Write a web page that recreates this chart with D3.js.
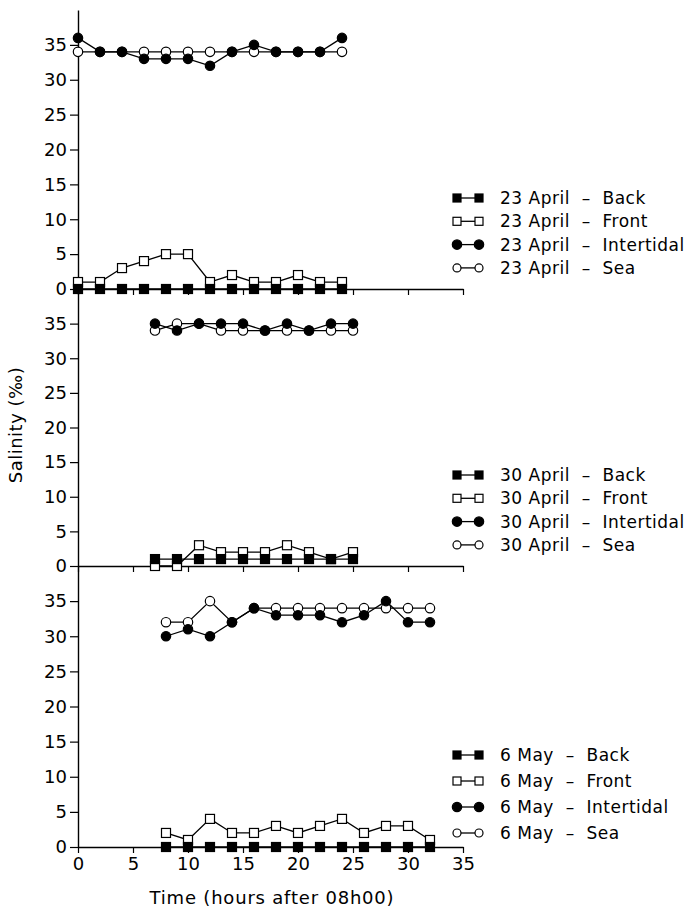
<!DOCTYPE html>
<html>
<head>
<meta charset="utf-8">
<script src="https://cdn.jsdelivr.net/npm/d3@7"></script>
<style>
  body { margin: 0; background: #fff; }
  text { font-family: "DejaVu Sans", sans-serif; fill: #000; }
</style>
</head>
<body>
<div id="chart"></div>
<script>
// data
var panelNames = ["23 April", "30 April", "6 May"];
var seriesNames = ["Back", "Front", "Intertidal", "Sea"];
var yTicks = [0, 5, 10, 15, 20, 25, 30, 35];
var xTicks = [0, 5, 10, 15, 20, 25, 30, 35];

var hoursApr23 = [0, 2, 4, 6, 8, 10, 12, 14, 16, 18, 20, 22, 24];
var backApr23  = [0, 0, 0, 0, 0, 0, 0, 0, 0, 0, 0, 0, 0];
var frontApr23 = [1, 1, 3, 4, 5, 5, 1, 2, 1, 1, 2, 1, 1];
var interApr23 = [36, 34, 34, 33, 33, 33, 32, 34, 35, 34, 34, 34, 36];
var seaApr23   = [34, 34, 34, 34, 34, 34, 34, 34, 34, 34, 34, 34, 34];

var hoursApr30 = [7, 9, 11, 13, 15, 17, 19, 21, 23, 25];
var backApr30  = [1, 1, 1, 1, 1, 1, 1, 1, 1, 1];
var frontApr30 = [0, 0, 3, 2, 2, 2, 3, 2, 1, 2];
var interApr30 = [35, 34, 35, 35, 35, 34, 35, 34, 35, 35];
var seaApr30   = [34, 35, 35, 34, 34, 34, 34, 34, 34, 34];

var hoursMay6 = [8, 10, 12, 14, 16, 18, 20, 22, 24, 26, 28, 30, 32];
var backMay6  = [0, 0, 0, 0, 0, 0, 0, 0, 0, 0, 0, 0, 0];
var frontMay6 = [2, 1, 4, 2, 2, 3, 2, 3, 4, 2, 3, 3, 1];
var interMay6 = [30, 31, 30, 32, 34, 33, 33, 33, 32, 33, 35, 32, 32];
var seaMay6   = [32, 32, 35, 32, 34, 34, 34, 34, 34, 34, 34, 34, 34];

var panels = [
  {name: panelNames[0], hours: hoursApr23, values: [backApr23, frontApr23, interApr23, seaApr23]},
  {name: panelNames[1], hours: hoursApr30, values: [backApr30, frontApr30, interApr30, seaApr30]},
  {name: panelNames[2], hours: hoursMay6,  values: [backMay6,  frontMay6,  interMay6,  seaMay6]}
];

// layout
var width = 696, height = 912;
var left = 78, right = 463;
var bottoms = [289, 566, 847];
var tops = [10, 289, 566];
var legendStart = [-91, -91, -92];
var legendStep = [23.3, 23.3, 26];

var svg = d3.select("#chart").append("svg")
    .attr("width", width)
    .attr("height", height);

var x = d3.scaleLinear().domain([0, 35]).range([left, right]);

// draw order: Front, Back, Sea, Intertidal (filled on top)
var drawOrder = [1, 0, 3, 2];

function drawMarker(g, type, cx, cy, small) {
  if (type == 0 || type == 1) {
    var s = small ? 8 : 9;
    g.append("rect")
      .attr("x", cx - s / 2).attr("y", cy - s / 2)
      .attr("width", s).attr("height", s)
      .attr("fill", type == 0 ? "#000" : "#fff")
      .attr("stroke", "#000")
      .attr("stroke-width", 1.2);
  } else {
    g.append("circle")
      .attr("cx", cx).attr("cy", cy)
      .attr("r", type == 3 && small ? 4 : 4.7)
      .attr("fill", type == 2 ? "#000" : "#fff")
      .attr("stroke", "#000")
      .attr("stroke-width", 1.2);
  }
}

panels.forEach(function(p, i) {
  var y = d3.scaleLinear().domain([0, 40]).range([bottoms[i], tops[i]]);
  var g = svg.append("g");

  // y axis
  g.append("g")
    .attr("transform", "translate(" + left + ",0)")
    .call(d3.axisLeft(y).tickValues(yTicks).tickSize(8).tickSizeOuter(0).tickPadding(3))
    .call(function(a) {
      a.select(".domain").attr("stroke-width", 1.4);
      a.selectAll(".tick line").attr("stroke-width", 1.2);
      a.selectAll("text").style("font-size", "18px").attr("fill", "#000");
    });

  // x baseline
  var xa = d3.axisBottom(x).tickValues(xTicks).tickSize(6).tickSizeOuter(0).tickPadding(4);
  if (i < 2) xa.tickFormat("");
  g.append("g")
    .attr("transform", "translate(0," + y(0) + ")")
    .call(xa)
    .call(function(a) {
      a.select(".domain").attr("stroke-width", 1.3);
      a.selectAll(".tick line").attr("stroke-width", 1.2);
      a.selectAll("text").style("font-size", "18px").attr("fill", "#000");
    });

  var line = d3.line()
    .x(function(d) { return x(d[0]); })
    .y(function(d) { return y(d[1]); });

  drawOrder.forEach(function(s) {
    var pts = p.hours.map(function(h, k) { return [h, p.values[s][k]]; });
    g.append("path")
      .datum(pts)
      .attr("d", line)
      .attr("fill", "none")
      .attr("stroke", "#000")
      .attr("stroke-width", 1.3);
    pts.forEach(function(d) {
      drawMarker(g, s, x(d[0]), y(d[1]), false);
    });
  });

  // legend
  seriesNames.forEach(function(name, s) {
    var ly = bottoms[i] + legendStart[i] + s * legendStep[i];
    g.append("line")
      .attr("x1", 457).attr("x2", 479)
      .attr("y1", ly).attr("y2", ly)
      .attr("stroke", "#000").attr("stroke-width", 1.3);
    drawMarker(g, s, 457, ly, true);
    drawMarker(g, s, 479, ly, true);
    g.append("text")
      .attr("x", 500).attr("y", ly)
      .attr("dy", "0.35em")
      .style("font-size", "17px")
      .style("letter-spacing", "0.5px")
      .style("white-space", "pre")
      .text(p.name + "  \u2013  " + name);
  });
});

// axis titles
svg.append("text")
  .attr("transform", "translate(22,425) rotate(-90)")
  .attr("text-anchor", "middle")
  .style("font-size", "18px")
  .style("letter-spacing", "0.5px")
  .text("Salinity (\u2030)");

svg.append("text")
  .attr("x", 272).attr("y", 898)
  .attr("dy", "0.35em")
  .attr("text-anchor", "middle")
  .style("font-size", "18px")
  .style("letter-spacing", "0.8px")
  .text("Time (hours after 08h00)");
</script>
</body>
</html>
